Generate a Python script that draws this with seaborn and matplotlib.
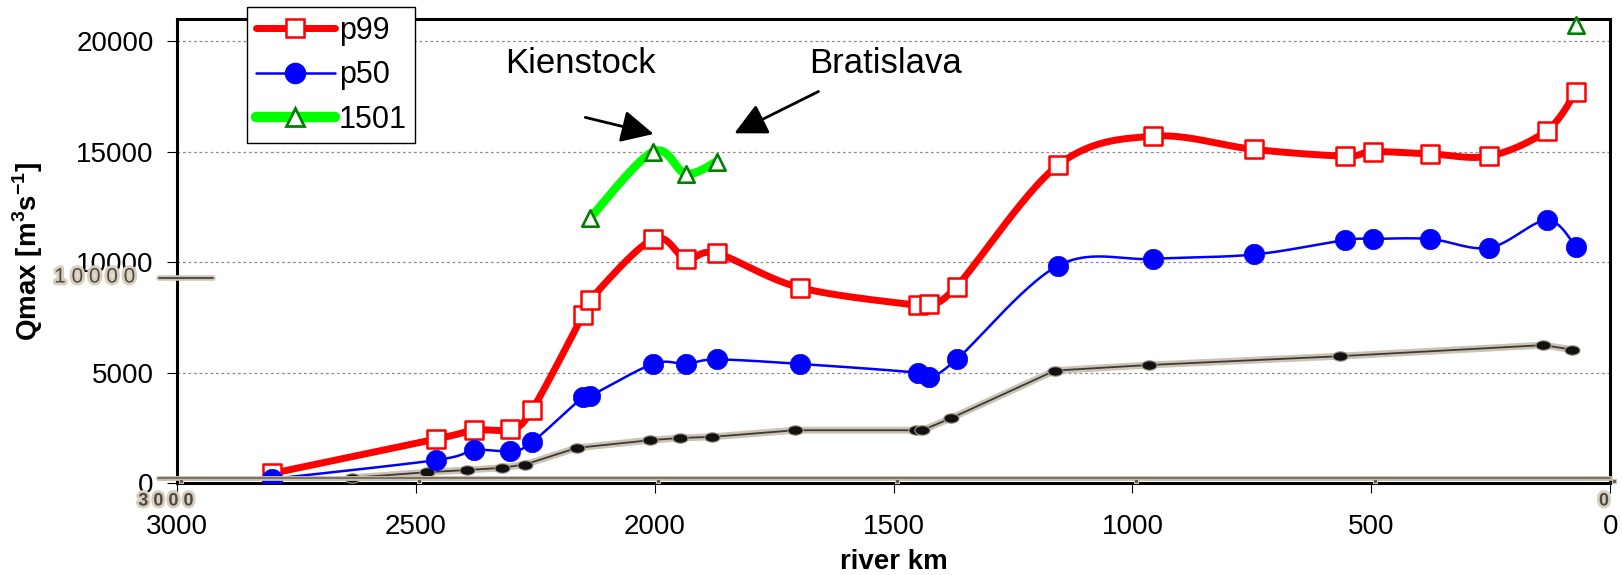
import numpy as np
import matplotlib
matplotlib.use("Agg")
import matplotlib.pyplot as plt
import matplotlib.patheffects as pe
from matplotlib.lines import Line2D
import seaborn as sns

# ---- data -------------------------------------------------------------
river_km = [2800, 2457, 2377, 2302, 2257, 2150, 2135, 2003, 1934, 1870, 1696,
            1448, 1426, 1368, 1155, 956, 745, 555, 497, 377, 253, 133, 72]
q_p99 = [450, 2000, 2400, 2450, 3300, 7600, 8300, 11050, 10150, 10400, 8850,
         8050, 8100, 8900, 14400, 15700, 15100, 14800, 15000, 14900, 14800,
         15950, 17700]
q_p50 = [200, 1050, 1500, 1450, 1850, 3900, 3950, 5400, 5400, 5600, 5400,
         5000, 4800, 5600, 9850, 10150, 10350, 11000, 11050, 11050, 10650,
         11900, 10700]

km_1501 = [2135, 2003, 1934, 1870, 72]
q_1501 = [12000, 15000, 14000, 14550, 20750]

# underlying reference curve (scanned, unlabeled)
km_ref = [2634, 2477, 2393, 2320, 2271, 2163, 2010, 1947, 1880, 1706, 1452,
          1440, 1379, 1162, 966, 565, 140, 81]
q_ref = [250, 500, 600, 700, 850, 1600, 1950, 2050, 2100, 2400, 2400, 2400,
         2950, 5100, 5350, 5750, 6250, 6050]

x_ticks = [3000, 2500, 2000, 1500, 1000, 500, 0]
y_ticks = [0, 5000, 10000, 15000, 20000]
series_labels = ["p99", "p50", "1501"]

# ---- style ------------------------------------------------------------
sns.set_theme(style="white")
plt.rcParams["font.family"] = ["Liberation Sans", "DejaVu Sans"]
plt.rcParams["mathtext.fontset"] = "custom"
plt.rcParams["mathtext.rm"] = "Liberation Sans"
plt.rcParams["mathtext.bf"] = "Liberation Sans:bold"

fig = plt.figure(figsize=(16.22, 5.75), dpi=100, facecolor="white")
ax = fig.add_axes([0.10894, 0.15948, 0.88385, 0.80748])
ax.set_xlim(3000, 0)
ax.set_ylim(0, 21000)

# screen-space scale factors so the smoothing behaves like a spreadsheet chart
SX = 1433.6 / 3000.0
SY = 464.3 / 21000.0


def smooth_path(xs, ys, n=30):
    """Cubic Bezier smoothing through every point (Catmull-Rom style)."""
    P = np.column_stack([np.asarray(xs, float) * SX, np.asarray(ys, float) * SY])
    t = np.linspace(0, 1, n)[:, None]
    parts = []
    for i in range(len(P) - 1):
        p0 = P[i - 1] if i > 0 else P[i]
        p1, p2 = P[i], P[i + 1]
        p3 = P[i + 2] if i + 2 < len(P) else P[i + 1]
        c1 = p1 + (p2 - p0) / 6.0
        c2 = p2 - (p3 - p1) / 6.0
        seg = (1 - t) ** 3 * p1 + 3 * (1 - t) ** 2 * t * c1 \
            + 3 * (1 - t) * t ** 2 * c2 + t ** 3 * p2
        parts.append(seg if i == 0 else seg[1:])
    Q = np.vstack(parts)
    return Q[:, 0] / SX, Q[:, 1] / SY


def contiguous(xs, ys, max_gap=1000):
    """Split a series where the river reach has a gap."""
    segs, cur = [], [0]
    for i in range(1, len(xs)):
        if abs(xs[i] - xs[i - 1]) > max_gap:
            segs.append(cur)
            cur = []
        cur.append(i)
    segs.append(cur)
    return [([xs[j] for j in s], [ys[j] for j in s]) for s in segs]


def smooth_line(xs, ys, color, lw, z):
    for sx, sy in contiguous(xs, ys):
        if len(sx) < 2:
            continue
        bx, by = smooth_path(sx, sy)
        sns.lineplot(x=bx, y=by, sort=False, estimator=None, color=color,
                     linewidth=lw, ax=ax, zorder=z, legend=False)


# reference curve from the scanned background
halo = [pe.Stroke(linewidth=5, foreground="#cdc3b2"), pe.Normal()]
ref_line = sns.lineplot(x=km_ref, y=q_ref, sort=False, estimator=None,
                        color="#3a3a3a", linewidth=1.3, ax=ax, zorder=2,
                        legend=False)
ref_line.lines[-1].set_path_effects(halo)
blob = [(np.cos(a) * 1.6, np.sin(a)) for a in np.linspace(0, 2 * np.pi, 24)]
sns.scatterplot(x=km_ref, y=q_ref, marker=blob, s=120, color="#111111",
                edgecolor="#a39a88", linewidth=0.8, ax=ax, zorder=3,
                legend=False)

# p99
smooth_line(river_km, q_p99, "#ff0000", 5.0, 4)
sns.scatterplot(x=river_km, y=q_p99, marker="s", s=160, color="white",
                edgecolor="#ff0000", linewidth=1.8, ax=ax, zorder=5,
                legend=False)
# p50
smooth_line(river_km, q_p50, "#0000ff", 1.8, 4)
sns.scatterplot(x=river_km, y=q_p50, marker="o", s=215, color="#0000ff",
                edgecolor="#0000ff", linewidth=0.5, ax=ax, zorder=5,
                legend=False)
# 1501 flood
smooth_line(km_1501, q_1501, "#00ff00", 6.0, 4)
sns.scatterplot(x=km_1501, y=q_1501, marker="^", s=140, color="white",
                edgecolor="#008000", linewidth=1.9, ax=ax, zorder=6,
                legend=False, clip_on=False)

# scanned background axis and labels
ax.plot([3040, 0], [260, 260], color="#6e6659", lw=1.2, zorder=7,
        clip_on=False, path_effects=[pe.Stroke(linewidth=3.5,
                                                foreground="#c9bfae"),
                                      pe.Normal()])
ax.scatter([v - 8 for v in x_ticks], [110] * len(x_ticks), marker="s", s=12,
           color="#5e574c", edgecolor="#c9bfae", linewidth=0.8, zorder=7,
           clip_on=False)
ax.plot([3038, 2925], [9300, 9300], color="#4a443b", lw=1.3, zorder=7,
        clip_on=False, path_effects=[pe.Stroke(linewidth=4,
                                                foreground="#cdc3b2"),
                                      pe.Normal()])
ghost_fx = [pe.withStroke(linewidth=4, foreground="#d8cfbf")]
fig.text(95 / 1622, 1 - 277 / 575, "1 0 0 0 0", ha="center", va="center",
         fontsize=15, color="#4d4a44", path_effects=ghost_fx)
fig.text(166 / 1622, 1 - 501 / 575, "3 0 0 0", ha="center", va="center",
         fontsize=13, fontweight="bold", color="#4d4a44",
         path_effects=ghost_fx)
fig.text(1604 / 1622, 1 - 501 / 575, "0", ha="center", va="center",
         fontsize=13, fontweight="bold", color="#4d4a44",
         path_effects=ghost_fx)

# annotations
arrow_kw = dict(arrowstyle="-|>,head_length=0.9,head_width=0.45",
                mutation_scale=22, lw=2, color="black", shrinkA=0, shrinkB=0)
ax.annotate("", xy=(2002, 15800), xytext=(2145, 16550), arrowprops=arrow_kw)
ax.annotate("", xy=(1833, 15830), xytext=(1657, 17720), arrowprops=arrow_kw)
ax.text(2155, 18980, "Kienstock", ha="center", va="center", fontsize=25,
        color="black")
ax.text(1517, 18980, "Bratislava", ha="center", va="center", fontsize=25,
        color="black")

# axes styling
ax.set_xticks(x_ticks)
ax.set_xticklabels([str(v) for v in x_ticks])
ax.set_yticks(y_ticks)
ax.set_yticklabels([str(v) for v in y_ticks])
ax.tick_params(axis="both", which="major", direction="out", length=7,
               width=0.8, color="black", labelsize=20, labelcolor="black",
               bottom=True, left=True)
ax.tick_params(axis="x", pad=15)
ax.tick_params(axis="y", pad=9.5)
for sp in ax.spines.values():
    sp.set_visible(True)
    sp.set_color("black")
    sp.set_linewidth(2.2)
ax.grid(False)
ax.yaxis.grid(True, linestyle=(0, (2.2, 2.2)), color="#8c8c8c", lw=0.9)
ax.set_axisbelow(True)

ax.set_xlabel("river km", fontsize=20, fontweight="bold", color="black")
ax.set_ylabel(r"Qmax [m$^\mathbf{3}$s$^\mathbf{-1}$]", fontsize=20,
              fontweight="bold", color="black")
ax.xaxis.set_label_coords(0.5, -0.142)
ax.yaxis.set_label_coords(-0.092, 0.5)

# legend
handles = [
    Line2D([], [], color="#ff0000", lw=5.0, marker="s", ms=12.5, mfc="white",
           mec="#ff0000", mew=1.8),
    Line2D([], [], color="#0000ff", lw=1.8, marker="o", ms=14.5,
           mfc="#0000ff", mec="#0000ff"),
    Line2D([], [], color="#00ff00", lw=7.5, marker="^", ms=12.5, mfc="white",
           mec="#008000", mew=2.0),
]
leg = fig.legend(handles, series_labels, loc="upper left",
                 bbox_to_anchor=(247 / 1622, 1 - 7 / 575),
                 bbox_transform=fig.transFigure, frameon=True, fancybox=False,
                 framealpha=1, edgecolor="black", facecolor="white",
                 fontsize=22, handlelength=2.6, handletextpad=0.12,
                 labelspacing=0.48, borderpad=0.28, borderaxespad=0,
                 numpoints=1)
leg.get_frame().set_linewidth(1.0)
for txt in leg.get_texts():
    txt.set_color("black")

fig.savefig("out.png", dpi=100, facecolor="white")
